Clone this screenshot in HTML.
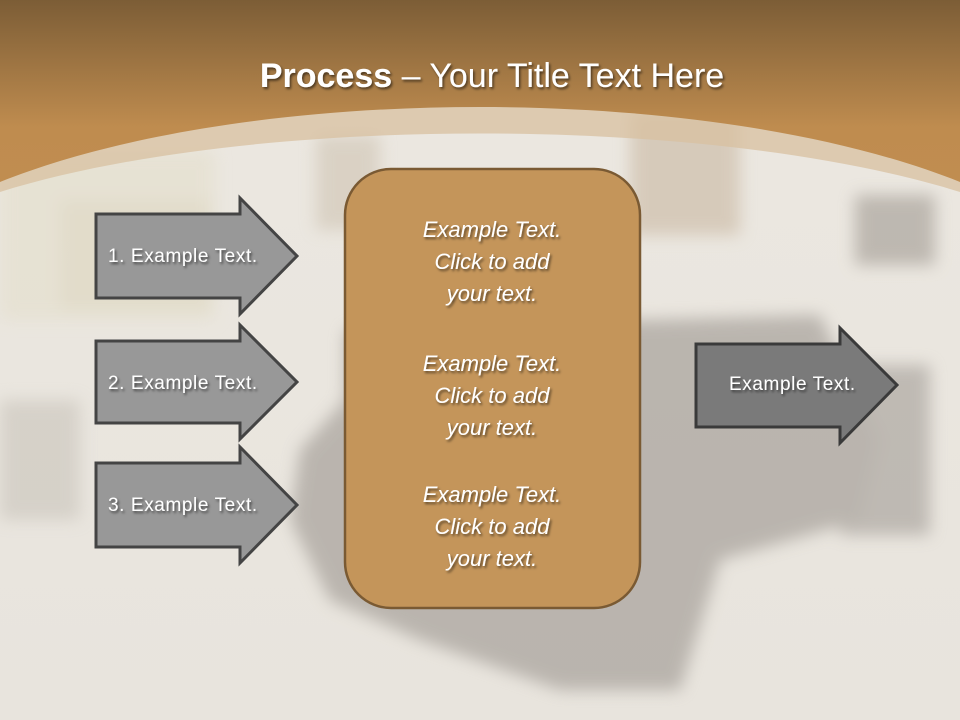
<!DOCTYPE html>
<html><head><meta charset="utf-8"><style>
html,body{margin:0;padding:0;width:960px;height:720px;overflow:hidden;background:#ebe7e0}
svg{display:block}
text{font-family:"Liberation Sans",sans-serif}
</style></head><body>
<svg width="960" height="720" viewBox="0 0 960 720" xmlns="http://www.w3.org/2000/svg">
<defs>
<linearGradient id="hdr" x1="0" y1="0" x2="0" y2="1">
<stop offset="0" stop-color="#7c5d36"/><stop offset="0.7" stop-color="#bf8c4f"/><stop offset="1" stop-color="#c08d50"/>
</linearGradient>
<linearGradient id="bg" x1="0" y1="0" x2="0" y2="1">
<stop offset="0" stop-color="#ece8e1"/><stop offset="1" stop-color="#e8e4dd"/>
</linearGradient>
<filter id="bl"><feGaussianBlur stdDeviation="8"/></filter>
<filter id="ts"><feDropShadow dx="1.5" dy="2" stdDeviation="1.2" flood-color="#000" flood-opacity="0.55"/></filter>
</defs>
<rect width="960" height="720" fill="url(#bg)"/>
<g filter="url(#bl)" opacity="0.6">
<rect x="0" y="150" width="215" height="170" fill="#e4dfcc"/>
<rect x="60" y="200" width="150" height="110" fill="#ddd6bd"/>
<rect x="0" y="400" width="80" height="120" fill="#c9c4bb"/>
<rect x="316" y="135" width="64" height="95" fill="#cfc4b3"/>
<rect x="630" y="110" width="110" height="125" fill="#c9b8a2"/>
<rect x="855" y="195" width="80" height="70" fill="#a09a92"/>
<rect x="840" y="365" width="90" height="170" fill="#a39d97"/>
<polygon points="640,320 820,315 850,380 880,440 860,520 720,560 680,690 560,690 420,640 330,600 290,520 300,450 345,400 345,330" fill="#9b958f"/>
</g>
<path d="M0,0 H960 V192 C710,114 250,114 0,192 Z" fill="#d8c0a0" opacity="0.75"/>
<path d="M0,0 H960 V182 C710,82 250,82 0,182 Z" fill="url(#hdr)"/>
<text x="492" y="87" text-anchor="middle" font-size="34" fill="#fff" filter="url(#ts)"><tspan font-weight="bold">Process</tspan> – Your Title Text Here</text>
<rect x="345" y="169" width="295" height="439" rx="46" ry="46" fill="#c4955a" stroke="#7a5a33" stroke-width="2.5"/>
<g font-size="22" font-style="italic" fill="#fff" text-anchor="middle" filter="url(#ts)">
<text x="492" y="237">Example Text.</text><text x="492" y="269">Click  to add</text><text x="492" y="301">your text.</text>
<text x="492" y="371">Example Text.</text><text x="492" y="403">Click  to add</text><text x="492" y="435">your text.</text>
<text x="492" y="502">Example Text.</text><text x="492" y="534">Click  to add</text><text x="492" y="566">your text.</text>
</g>
<g fill="#989898" stroke="#444" stroke-width="3">
<polygon points="96,214 240,214 240,198 297,256 240,314 240,298 96,298"/>
<polygon points="96,341 240,341 240,325 297,382 240,439 240,423 96,423"/>
<polygon points="96,463 240,463 240,447 297,505 240,563 240,547 96,547"/>
</g>
<polygon points="696,344 840,344 840,328 897,385 840,443 840,427 696,427" fill="#7a7a7a" stroke="#3a3a3a" stroke-width="3"/>
<g font-size="19" fill="#fff" filter="url(#ts)" letter-spacing="0.6">
<text x="108" y="262">1. Example Text.</text>
<text x="108" y="389">2. Example Text.</text>
<text x="108" y="511">3. Example Text.</text>
<text x="729" y="390">Example Text.</text>
</g>
</svg>
</body></html>
